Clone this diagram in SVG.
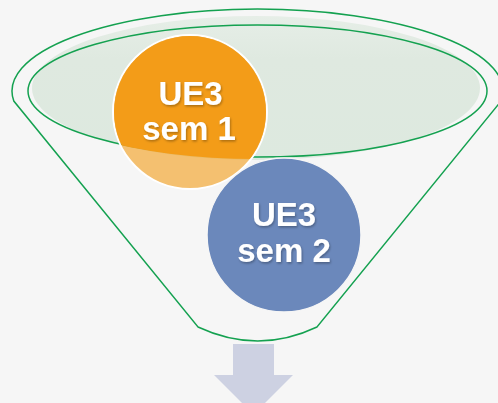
<svg xmlns="http://www.w3.org/2000/svg" width="498" height="403" viewBox="0 0 498 403">
<defs>
<style>
.lbl{font-family:"Liberation Sans",Arial,sans-serif;font-weight:bold;font-size:33px;fill:#ffffff;text-anchor:middle;filter:url(#sh)}
.fun{fill:none;stroke:#14a150;stroke-width:1.5}
</style>
<filter id="sh" x="-20%" y="-20%" width="140%" height="140%">
<feDropShadow dx="1" dy="1.5" stdDeviation="1" flood-color="#000" flood-opacity="0.3"/>
</filter>
<linearGradient id="gf" x1="0" y1="0" x2="0" y2="1">
<stop offset="0" stop-color="#e6eee7"/>
<stop offset="0.3" stop-color="#dfe9e0"/>
<stop offset="1" stop-color="#dde9df"/>
</linearGradient>
<clipPath id="inner"><ellipse cx="256" cy="90" rx="226" ry="69"/></clipPath>
</defs>
<rect width="498" height="403" fill="#f6f6f6"/>
<g id="funnel">
<ellipse cx="256" cy="88" rx="224" ry="72" fill="url(#gf)"/>
<path class="fun" d="M 13.8,101 A 245.5 82 0 1 1 501.2,101 L 317,327 Q 258,355 198,327 Z"/>
<ellipse class="fun" cx="257.5" cy="91" rx="229.5" ry="66"/>
</g>
<g id="arrow">
<path d="M 233,344 H 274 V 375 H 293 L 253.5,414.5 L 214,375 H 233 Z" fill="#cdd1e2"/>
</g>
<g id="ue3sem1">
<circle cx="190" cy="112" r="77" fill="#f39c18" fill-opacity="0.6" stroke="#ffffff" stroke-width="2"/>
<circle cx="190" cy="112" r="76" fill="#f39c18" clip-path="url(#inner)"/>
<text class="lbl" x="190.5" y="105">UE3</text>
<text class="lbl" x="189" y="140">sem 1</text>
</g>
<g id="ue3sem2">
<circle cx="284" cy="235" r="77" fill="#6b88bb" stroke="#f6f6f6" stroke-width="1.5"/>
<text class="lbl" x="284" y="226">UE3</text>
<text class="lbl" x="284" y="262">sem 2</text>
</g>
</svg>
